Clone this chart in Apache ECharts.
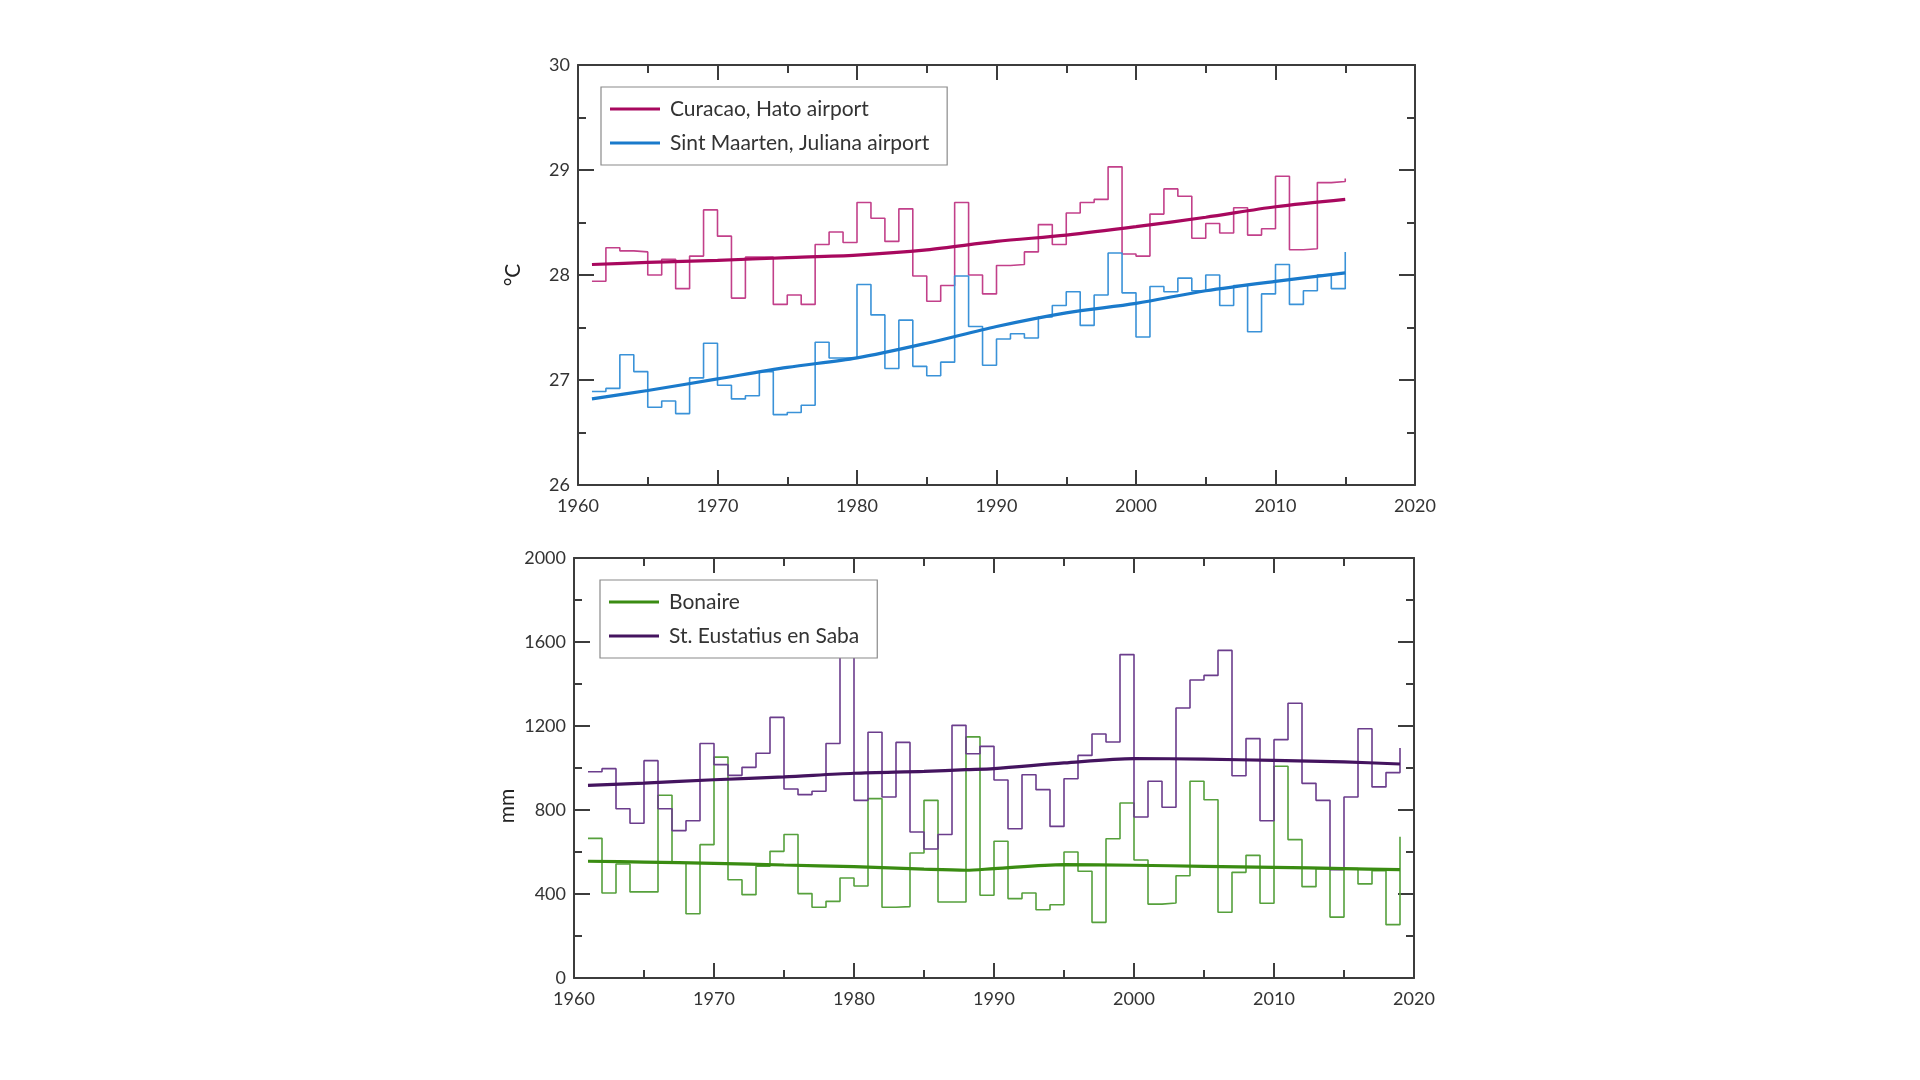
<!DOCTYPE html>
<html>
<head>
<meta charset="utf-8">
<title>Temperatuur en neerslag Caribisch Nederland</title>
<script src="https://cdn.jsdelivr.net/npm/echarts@6/dist/echarts.min.js"></script>
<style>
  html, body { margin: 0; padding: 0; background: #fff; }
  #chart { width: 1920px; height: 1080px; }
</style>
</head>
<body>
<div id="chart"></div>
<script>
// temperature, yearly means (°C)
const tempYears = [1961, 1962, 1963, 1964, 1965, 1966, 1967, 1968, 1969, 1970,
  1971, 1972, 1973, 1974, 1975, 1976, 1977, 1978, 1979, 1980,
  1981, 1982, 1983, 1984, 1985, 1986, 1987, 1988, 1989, 1990,
  1991, 1992, 1993, 1994, 1995, 1996, 1997, 1998, 1999, 2000,
  2001, 2002, 2003, 2004, 2005, 2006, 2007, 2008, 2009, 2010,
  2011, 2012, 2013, 2014, 2015];
const curacao = [27.94, 28.26, 28.23, 28.22, 28.00, 28.15, 27.87, 28.18, 28.62, 28.37,
  27.78, 28.17, 28.17, 27.72, 27.81, 27.72, 28.29, 28.41, 28.31, 28.69,
  28.54, 28.32, 28.63, 27.99, 27.75, 27.90, 28.69, 28.00, 27.82, 28.09,
  28.10, 28.22, 28.48, 28.29, 28.59, 28.69, 28.72, 29.03, 28.20, 28.18,
  28.58, 28.82, 28.75, 28.35, 28.49, 28.40, 28.64, 28.38, 28.44, 28.94,
  28.24, 28.25, 28.88, 28.89, 28.92];
const sintMaarten = [26.89, 26.92, 27.24, 27.08, 26.74, 26.80, 26.68, 27.02, 27.35, 26.95,
  26.82, 26.85, 27.08, 26.67, 26.69, 26.76, 27.36, 27.21, 27.21, 27.91,
  27.62, 27.11, 27.57, 27.13, 27.04, 27.17, 27.99, 27.51, 27.14, 27.39,
  27.44, 27.40, 27.60, 27.71, 27.84, 27.52, 27.81, 28.21, 27.83, 27.41,
  27.89, 27.84, 27.97, 27.85, 28.00, 27.71, 27.90, 27.46, 27.82, 28.10,
  27.72, 27.85, 28.00, 27.87, 28.22];
// smoothed trend, read at these years
const tempTrendYears = [1961, 1965, 1970, 1975, 1980, 1985, 1990, 1995, 2000, 2005, 2010, 2015];
const curacaoTrend = [28.10, 28.12, 28.14, 28.165, 28.19, 28.24, 28.32, 28.38, 28.46, 28.55, 28.65, 28.72];
const sintMaartenTrend = [26.82, 26.90, 27.01, 27.12, 27.21, 27.35, 27.51, 27.64, 27.73, 27.85, 27.94, 28.02];

// precipitation, yearly sums (mm)
const rainYears = [1961, 1962, 1963, 1964, 1965, 1966, 1967, 1968, 1969, 1970,
  1971, 1972, 1973, 1974, 1975, 1976, 1977, 1978, 1979, 1980,
  1981, 1982, 1983, 1984, 1985, 1986, 1987, 1988, 1989, 1990,
  1991, 1992, 1993, 1994, 1995, 1996, 1997, 1998, 1999, 2000,
  2001, 2002, 2003, 2004, 2005, 2006, 2007, 2008, 2009, 2010,
  2011, 2012, 2013, 2014, 2015, 2016, 2017, 2018, 2019];
const bonaire = [665, 405, 543, 410, 410, 870, 548, 306, 635, 1052,
  468, 397, 532, 603, 683, 402, 337, 365, 476, 438,
  854, 337, 340, 595, 846, 362, 362, 1148, 394, 651,
  378, 405, 325, 349, 600, 508, 265, 663, 833, 562,
  352, 357, 487, 937, 849, 313, 503, 584, 356, 1008,
  659, 435, 521, 290, 521, 448, 511, 254, 673];
const stEustatius = [982, 997, 806, 737, 1035, 806, 702, 749, 1117, 1016,
  965, 1003, 1070, 1241, 900, 873, 889, 1117, 1750, 846,
  1170, 862, 1122, 695, 614, 683, 1203, 1068, 1103, 943,
  711, 968, 897, 722, 949, 1060, 1162, 1124, 1540, 767,
  937, 813, 1286, 1419, 1441, 1560, 963, 1140, 749, 1135,
  1308, 927, 846, 516, 862, 1187, 910, 978, 1095];
const rainTrendYears = [1961, 1965, 1970, 1975, 1980, 1985, 1988, 1990, 1995, 2000, 2005, 2010, 2015, 2019];
const bonaireTrend = [556, 552, 546, 538, 530, 518, 513, 521, 540, 537, 532, 527, 521, 516];
const stEustatiusTrend = [917, 928, 944, 958, 975, 984, 992, 997, 1024, 1045, 1042, 1036, 1029, 1019];

const xTicks = { min: 1960, max: 2020, interval: 10 };
const tempTicks = { min: 26, max: 30, interval: 1 };
const rainTicks = { min: 0, max: 2000, interval: 400 };

const names = {
  curacao: 'Curacao, Hato airport',
  sintMaarten: 'Sint Maarten, Juliana airport',
  bonaire: 'Bonaire',
  stEustatius: 'St. Eustatius en Saba',
};

const font = 'Lato';
const axisColor = '#3c3c3c';
const pair = (xs, ys) => xs.map((x, i) => [x, ys[i]]);

function xAxis(gridIndex, position) {
  return {
    type: 'value', gridIndex, position, ...xTicks,
    axisLine: { show: true, onZero: false, lineStyle: { color: axisColor, width: 2 } },
    axisTick: { show: true, inside: true, length: 15, lineStyle: { color: axisColor, width: 2 } },
    minorTick: { show: true, splitNumber: 2, length: 8, lineStyle: { color: axisColor, width: 2 } },
    axisLabel: {
      show: position === 'bottom', margin: 12, color: '#333', fontFamily: font, fontSize: 18,
      formatter: v => String(v),
    },
    splitLine: { show: false },
  };
}

function yAxis(gridIndex, position, ticks, extra) {
  return {
    type: 'value', gridIndex, position, ...ticks,
    axisLine: { show: true, onZero: false, lineStyle: { color: axisColor, width: 2 } },
    axisTick: { show: true, inside: true, length: 16, lineStyle: { color: axisColor, width: 2 } },
    minorTick: { show: true, splitNumber: 2, length: 8, lineStyle: { color: axisColor, width: 2 } },
    axisLabel: {
      show: position === 'left', margin: 8, color: '#333', fontFamily: font, fontSize: 18,
      formatter: v => String(v),
    },
    splitLine: { show: false },
    ...extra,
  };
}

function trend(name, xs, ys, color, axisIndex) {
  return {
    name, type: 'line', xAxisIndex: axisIndex, yAxisIndex: axisIndex,
    data: pair(xs, ys), smooth: 0.3, showSymbol: false, z: 4,
    itemStyle: { color }, lineStyle: { color, width: 3.2 },
  };
}

function steps(name, xs, ys, color, axisIndex) {
  return {
    name, type: 'line', xAxisIndex: axisIndex, yAxisIndex: axisIndex,
    data: pair(xs, ys), step: 'end', showSymbol: false, z: 3,
    itemStyle: { color }, lineStyle: { color, width: 1.6 },
  };
}

function legend(data, left, top) {
  return {
    data, orient: 'vertical', left, top,
    padding: [11, 18, 11, 9], itemGap: 12, itemWidth: 50, itemHeight: 3,
    icon: 'rect', selectedMode: false,
    backgroundColor: '#fff', borderColor: '#8a8a8a', borderWidth: 1.2,
    textStyle: { fontFamily: font, fontSize: 21, lineHeight: 22, color: '#333', padding: [0, 0, 0, 5] },
  };
}

const chart = echarts.init(document.getElementById('chart'));
chart.setOption({
  animation: false,
  backgroundColor: '#fff',
  grid: [
    { left: 578, top: 65, width: 837, height: 420 },
    { left: 574, top: 558, width: 840, height: 420 },
  ],
  xAxis: [xAxis(0, 'bottom'), xAxis(0, 'top'), xAxis(1, 'bottom'), xAxis(1, 'top')],
  yAxis: [
    yAxis(0, 'left', tempTicks, {
      name: '°C', nameLocation: 'middle', nameGap: 54,
      nameTextStyle: { fontFamily: font, fontSize: 21, color: '#222' },
    }),
    yAxis(0, 'right', tempTicks),
    yAxis(1, 'left', rainTicks, {
      name: 'mm', nameLocation: 'middle', nameGap: 56,
      nameTextStyle: { fontFamily: font, fontSize: 21, color: '#222', padding: [0, 76, 0, 0] },
    }),
    yAxis(1, 'right', rainTicks),
  ],
  legend: [
    legend([names.curacao, names.sintMaarten], 601, 87),
    legend([names.bonaire, names.stEustatius], 600, 580),
  ],
  series: [
    trend(names.curacao, tempTrendYears, curacaoTrend, '#a8085e', 0),
    trend(names.sintMaarten, tempTrendYears, sintMaartenTrend, '#1a7acb', 0),
    steps(names.curacao, tempYears, curacao, '#c2408a', 0),
    steps(names.sintMaarten, tempYears, sintMaarten, '#3a92d8', 0),
    trend(names.bonaire, rainTrendYears, bonaireTrend, '#3a8c12', 2),
    trend(names.stEustatius, rainTrendYears, stEustatiusTrend, '#44145f', 2),
    steps(names.bonaire, rainYears, bonaire, '#56a03c', 2),
    steps(names.stEustatius, rainYears, stEustatius, '#6b3d8c', 2),
  ],
});
</script>
</body>
</html>
